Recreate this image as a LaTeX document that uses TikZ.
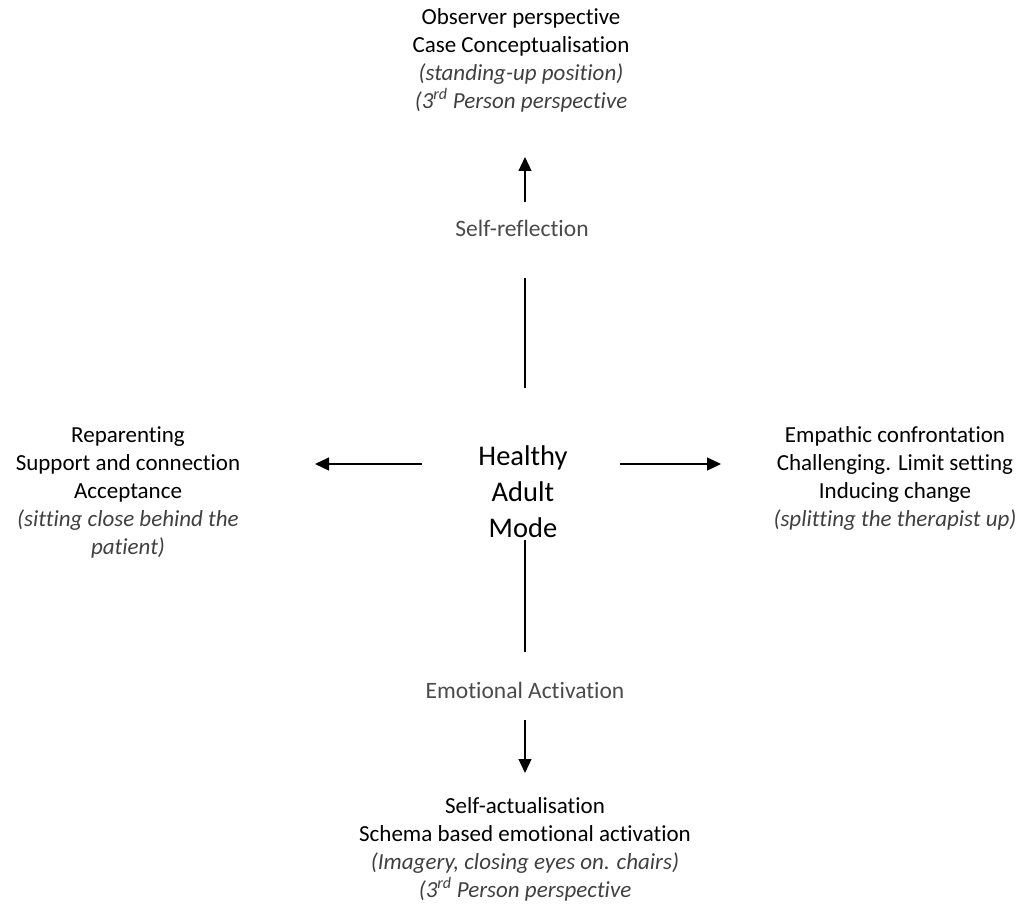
\documentclass[tikz,border=0pt]{standalone}
\usepackage{fontspec}
\setmainfont{Carlito}[Ligatures=NoCommon]
\usetikzlibrary{arrows.meta}
\definecolor{softgray}{HTML}{404040}
\definecolor{labelgray}{HTML}{4A4A4A}
\begin{document}
\begin{tikzpicture}[x=1pt,y=-1pt,
  blocktext/.style={align=center,inner sep=0pt,font=\fontsize{23}{28}\selectfont},
  centertext/.style={align=center,inner sep=0pt,font=\fontsize{28.5}{36}\selectfont},
  steplabel/.style={inner sep=0pt,text=labelgray,font=\fontsize{23.5}{26}\selectfont},
  connector/.style={line width=1.1pt,black},
  arrowed/.style={connector,-{Triangle[length=14pt,width=13pt]}}]
\useasboundingbox (0,0) rectangle (1027,912);
\node[blocktext] (top) at (521,60) {Observer perspective\\Case Conceptualisation\\\textit{\color{softgray}(standing-up position)}\\\textit{\color{softgray}(3\textsuperscript{rd} Person perspective}};
\node[steplabel] (refl) at (522,228) {Self-reflection};
\node[centertext] (ha) at (523,492) {Healthy\\Adult\\Mode};
\node[blocktext] (left) at (128,492) {Reparenting\\Support and connection\\Acceptance\\\textit{\color{softgray}(sitting close behind the}\\\textit{\color{softgray}patient)}};
\node[blocktext] (right) at (895,478) {Empathic confrontation\\Challenging. Limit setting\\Inducing change\\\textit{\color{softgray}(splitting the therapist up)}};
\node[steplabel] (emo) at (525,690) {Emotional Activation};
\node[blocktext] (bottom) at (525,849) {Self-actualisation\\Schema based emotional activation\\\textit{\color{softgray}(Imagery, closing eyes on. chairs)}\\\textit{\color{softgray}(3\textsuperscript{rd} Person perspective}};
\coordinate (t1) at (525,388);
\coordinate (t2) at (525,278);
\coordinate (t3) at (525,202);
\coordinate (t4) at (525,157);
\coordinate (l1) at (422,464);
\coordinate (l2) at (315,464);
\coordinate (r1) at (620,464);
\coordinate (r2) at (721,464);
\coordinate (b1) at (525,540);
\coordinate (b2) at (525,652);
\coordinate (b3) at (525,720);
\coordinate (b4) at (525,773);
\draw[connector] (t1) -- (t2);
\draw[arrowed] (t3) -- (t4);
\draw[arrowed] (l1) -- (l2);
\draw[arrowed] (r1) -- (r2);
\draw[connector] (b1) -- (b2);
\draw[arrowed] (b3) -- (b4);
\end{tikzpicture}
\end{document}
